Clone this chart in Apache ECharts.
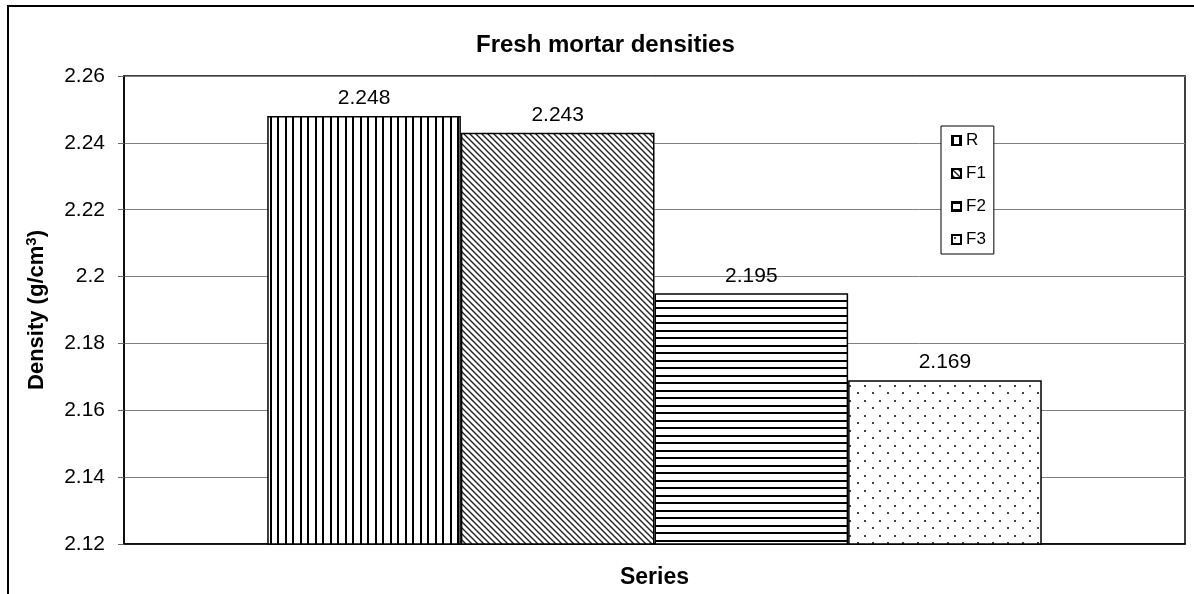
<!DOCTYPE html>
<html>
<head>
<meta charset="utf-8">
<script src="https://cdn.jsdelivr.net/npm/echarts@6/dist/echarts.min.js"></script>
<style>
html, body { margin: 0; padding: 0; background: #fff; }
#chart { width: 1194px; height: 594px; }
</style>
</head>
<body>
<div id="chart"></div>
<script>
// data
var seriesNames = ['R', 'F1', 'F2', 'F3'];
var densities = [2.248, 2.243, 2.195, 2.169];
var categories = ['Series'];
var yTicks = { min: 2.12, max: 2.26, step: 0.02 };

var FONT = "'Liberation Sans', Arial, sans-serif";

// hatch fills, drawn on small canvases and tiled
function makeTile(w, h, draw) {
	var c = document.createElement('canvas');
	c.width = w;
	c.height = h;
	var ctx = c.getContext('2d');
	ctx.fillStyle = '#fff';
	ctx.fillRect(0, 0, w, h);
	draw(ctx);
	return { image: c, repeat: 'repeat' };
}

var patterns = [
	// vertical lines
	makeTile(15, 4, function(ctx) {
		ctx.fillStyle = '#000';
		ctx.fillRect(0, 0, 2, 4);
		ctx.fillRect(7, 0, 2, 4);
	}),
	// diagonal \\\
	makeTile(6, 6, function(ctx) {
		ctx.strokeStyle = '#222';
		ctx.lineWidth = 1.4;
		ctx.beginPath();
		ctx.moveTo(-1, -1); ctx.lineTo(7, 7);
		ctx.moveTo(-4, 2); ctx.lineTo(4, 10);
		ctx.moveTo(2, -4); ctx.lineTo(10, 4);
		ctx.stroke();
	}),
	// horizontal lines
	makeTile(4, 15, function(ctx) {
		ctx.fillStyle = '#000';
		ctx.fillRect(0, 0, 4, 2);
		ctx.fillRect(0, 7, 4, 2);
	}),
	// dots
	makeTile(15, 15, function(ctx) {
		ctx.fillStyle = '#444';
		ctx.fillRect(2, 2, 2, 2);
		ctx.fillRect(9, 10, 2, 2);
	})
];

var series = [];
for (var i = 0; i < seriesNames.length; i++) {
	series.push({
		name: seriesNames[i],
		type: 'bar',
		barGap: '0%',
		barCategoryGap: '27%',
		data: [densities[i]],
		itemStyle: {
			color: patterns[i],
			borderColor: '#000',
			borderWidth: 1.5
		},
		label: {
			show: true,
			position: 'top',
			distance: 7,
			color: '#000',
			fontFamily: FONT,
			fontSize: 21,
			formatter: function(p) {
				return p.value.toFixed(3);
			}
		},
		emphasis: { disabled: true }
	});
}

var myChart = echarts.init(document.getElementById('chart'));
var option = {
	animation: false,
	backgroundColor: '#fff',
	grid: {
		show: true,
		left: 124,
		right: 9,
		top: 76,
		bottom: 38,
		borderColor: '#000',
		borderWidth: 1.5,
		backgroundColor: 'transparent'
	},
	graphic: [{
			// outer frame of the chart
			type: 'rect',
			shape: { x: 8, y: 6, width: 1210, height: 610 },
			style: { fill: 'none', stroke: '#000', lineWidth: 2 },
			silent: true
		},
		{
			type: 'text',
			left: 476,
			top: 33,
			style: {
				text: 'Fresh mortar densities',
				font: "bold 24px 'Liberation Sans', Arial, sans-serif",
				fill: '#000'
			}
		}
	],
	legend: {
		orient: 'vertical',
		left: 941,
		top: 126,
		padding: [6, 8, 6, 10],
		itemGap: 16,
		itemWidth: 9,
		itemHeight: 9,
		icon: 'rect',
		borderColor: '#000',
		borderWidth: 1,
		backgroundColor: '#fff',
		data: seriesNames,
		textStyle: {
			fontFamily: FONT,
			fontSize: 17,
			color: '#000'
		}
	},
	xAxis: {
		type: 'category',
		data: categories,
		name: 'Series',
		nameLocation: 'middle',
		nameGap: 22,
		nameTextStyle: {
			fontFamily: FONT,
			fontSize: 23,
			fontWeight: 'bold',
			color: '#000'
		},
		axisLabel: { show: false },
		axisTick: { show: false },
		axisLine: { lineStyle: { color: '#000', width: 1.5 } }
	},
	yAxis: {
		type: 'value',
		min: yTicks.min,
		max: yTicks.max,
		interval: yTicks.step,
		name: '{b|Density (g/cm}{s|3}{b|)}',
		nameLocation: 'middle',
		nameRotate: 90,
		nameGap: 74,
		nameTextStyle: {
			rich: {
				b: {
					fontFamily: FONT,
					fontSize: 22,
					fontWeight: 'bold',
					color: '#000',
					lineHeight: 26
				},
				s: {
					fontFamily: FONT,
					fontSize: 15,
					fontWeight: 'bold',
					color: '#000',
					lineHeight: 26,
					verticalAlign: 'top'
				}
			}
		},
		axisLine: { show: true, lineStyle: { color: '#000', width: 1.5 } },
		axisTick: { show: true, inside: false, length: 6, lineStyle: { color: '#666' } },
		axisLabel: {
			fontFamily: FONT,
			fontSize: 21,
			color: '#000',
			margin: 19,
			formatter: function(v) {
				return String(parseFloat(v.toFixed(2)));
			}
		},
		splitLine: { lineStyle: { color: '#808080', width: 1 } }
	},
	series: series
};
myChart.setOption(option);
</script>
</body>
</html>
